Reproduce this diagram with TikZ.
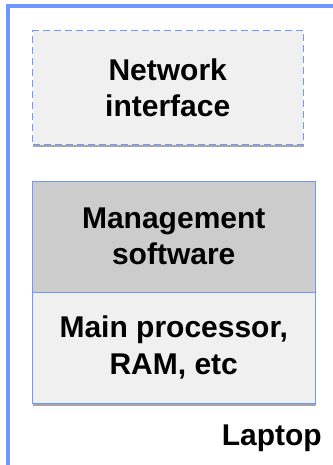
\documentclass[tikz,border=0pt]{standalone}
\usepackage{fontspec}
\setmainfont{Liberation Sans}
\begin{document}
\begin{tikzpicture}[x=1pt,y=-1pt,
  box/.style={rectangle,draw=blue1,line width=1pt,inner sep=0pt,align=center,
    font=\bfseries\fontsize{30}{36.5}\selectfont},
  shadowband/.style={fill=black!35,draw=none}]
\definecolor{blue1}{HTML}{7096FF}
\definecolor{lightfill}{HTML}{F0F0F0}
\definecolor{midfill}{HTML}{CCCCCC}
\useasboundingbox (0,0) rectangle (332,465);
% outer laptop frame (extends past the right and bottom edges)
\draw[blue1,line width=4pt] (8.3,6.5) rectangle (360,466.5);
% shadows
\fill[shadowband] (33,145) rectangle (303.5,147.5);
\fill[shadowband] (33,403) rectangle (315.5,406);
% boxes
\node[box,dashed,dash pattern=on 7pt off 4pt,fill=lightfill,minimum width=270.5pt,minimum height=114pt]
  (net) at (167.75,88) {Network\\interface};
\node[box,fill=midfill,minimum width=282.5pt,minimum height=111pt]
  (mgmt) at (173.75,236.5) {Management\\software};
\node[box,fill=lightfill,minimum width=282.5pt,minimum height=111pt]
  (main) at (173.75,347.5) {Main processor,\\RAM, etc};
\node[anchor=base east,inner sep=0pt,font=\bfseries\fontsize{30}{36}\selectfont]
  (laptop) at (322,445) {Laptop};
\end{tikzpicture}
\end{document}
